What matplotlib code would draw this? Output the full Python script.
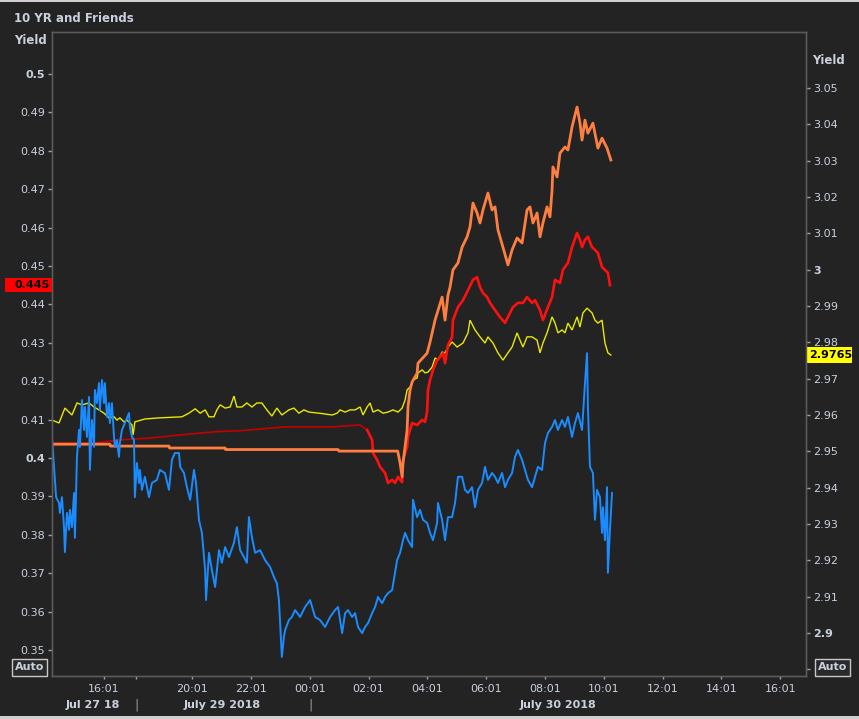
import matplotlib
matplotlib.use('Agg')
import matplotlib.pyplot as plt
from matplotlib.patches import Rectangle
import matplotlib.transforms as mtransforms

# x = chart hours since Jul 27 16:01 (session-compressed axis, weekend removed)
blue_t = [-1.77, -1.70, -1.63, -1.53, -1.50, -1.43, -1.36, -1.33, -1.26, -1.19, -1.16, -1.09, -1.02, -0.99,
          -0.92, -0.85, -0.82, -0.75, -0.68, -0.65, -0.58, -0.51, -0.48, -0.41, -0.34, -0.31, -0.24, -0.17,
          -0.14, -0.07, 0.00, 0.03, 0.10, 0.17, 0.20, 0.27, 0.34, 0.37, 0.44, 0.51, 0.54, 0.61, 0.71, 0.85,
          0.88, 0.95, 1.02, 1.05, 1.12, 1.19, 1.22, 1.29, 1.39, 1.53, 1.63, 1.80, 1.90, 2.07, 2.21, 2.31,
          2.41, 2.55, 2.59, 2.72, 2.82, 2.93, 3.06, 3.13, 3.23, 3.33, 3.44, 3.47, 3.57, 3.67, 3.78, 3.91,
          4.01, 4.12, 4.25, 4.42, 4.52, 4.63, 4.76, 4.86, 4.93, 5.03, 5.14, 5.31, 5.48, 5.65, 5.78, 5.88,
          5.95, 5.99, 6.05, 6.12, 6.16, 6.29, 6.39, 6.50, 6.67, 6.84, 7.01, 7.18, 7.35, 7.52, 7.69, 7.86,
          7.96, 8.10, 8.20, 8.30, 8.44, 8.54, 8.64, 8.78, 8.88, 8.98, 9.12, 9.22, 9.32, 9.46, 9.56, 9.66,
          9.80, 9.90, 9.97, 10.07, 10.17, 10.24, 10.34, 10.48, 10.51, 10.65, 10.75, 10.85, 10.99, 11.09,
          11.19, 11.33, 11.36, 11.50, 11.60, 11.70, 11.84, 11.94, 12.04, 12.18, 12.28, 12.38, 12.52, 12.62,
          12.72, 12.86, 12.96, 13.06, 13.20, 13.30, 13.40, 13.54, 13.64, 13.74, 13.88, 13.98, 14.08, 14.22,
          14.32, 14.42, 14.56, 14.66, 14.76, 14.90, 15.00, 15.10, 15.24, 15.34, 15.44, 15.58, 15.68, 15.78,
          15.92, 16.02, 16.12, 16.26, 16.36, 16.43, 16.46, 16.53, 16.63, 16.70, 16.77, 16.87, 16.94, 16.97,
          17.04, 17.11, 17.14, 17.21, 17.28]
blue_v = [0.4055, 0.3977, 0.3898, 0.3883, 0.3857, 0.3898, 0.3820, 0.3755, 0.3857, 0.3813, 0.3865, 0.3820,
          0.3909, 0.3792, 0.4003, 0.4073, 0.4029, 0.4151, 0.4073, 0.4133, 0.4055, 0.4159, 0.3969, 0.4099,
          0.4029, 0.4177, 0.4143, 0.4195, 0.4125, 0.4203, 0.4143, 0.4195, 0.4107, 0.4143, 0.4091, 0.4143,
          0.4055, 0.4029, 0.4047, 0.4003, 0.4039, 0.4073, 0.4091, 0.4117, 0.4081, 0.4055, 0.4047, 0.3898,
          0.3987, 0.3935, 0.3969, 0.3917, 0.3951, 0.3898, 0.3935, 0.3943, 0.3969, 0.3961, 0.3917, 0.3995,
          0.4013, 0.4013, 0.3977, 0.3961, 0.3924, 0.3891, 0.3969, 0.3935, 0.3839, 0.3805, 0.3708, 0.3630,
          0.3753, 0.3708, 0.3664, 0.3760, 0.3727, 0.3768, 0.3742, 0.3779, 0.3820, 0.3760, 0.3742, 0.3727,
          0.3846, 0.3794, 0.3753, 0.3760, 0.3734, 0.3716, 0.3690, 0.3674, 0.3630, 0.3570, 0.3482, 0.3534,
          0.3552, 0.3578, 0.3586, 0.3604, 0.3586, 0.3612, 0.3630, 0.3586, 0.3578, 0.3560, 0.3586, 0.3604,
          0.3612, 0.3544, 0.3596, 0.3604, 0.3586, 0.3596, 0.3560, 0.3544, 0.3560, 0.3570, 0.3596, 0.3612,
          0.3638, 0.3622, 0.3638, 0.3648, 0.3656, 0.3701, 0.3734, 0.3753, 0.3786, 0.3805, 0.3786, 0.3768,
          0.3891, 0.3846, 0.3865, 0.3839, 0.3831, 0.3805, 0.3786, 0.3831, 0.3883, 0.3839, 0.3786, 0.3846,
          0.3846, 0.3883, 0.3951, 0.3951, 0.3917, 0.3909, 0.3924, 0.3872, 0.3917, 0.3935, 0.3977, 0.3943,
          0.3961, 0.3951, 0.3935, 0.3961, 0.3924, 0.3943, 0.3961, 0.4003, 0.4021, 0.3995, 0.3969, 0.3943,
          0.3924, 0.3951, 0.3977, 0.3969, 0.4039, 0.4065, 0.4081, 0.4099, 0.4073, 0.4099, 0.4081, 0.4107,
          0.4055, 0.4091, 0.4117, 0.4073, 0.4195, 0.4273, 0.4133, 0.3977, 0.3961, 0.3839, 0.3917, 0.3898,
          0.3805, 0.3872, 0.3786, 0.3924, 0.3701, 0.3813, 0.3909]

yellow_t = [-1.77, -1.53, -1.33, -1.09, -0.92, -0.75, -0.51, -0.34, -0.17, 0.00, 0.17, 0.34, 0.44, 0.54,
            0.68, 0.78, 0.95, 0.99, 1.05, 1.39, 1.87, 2.65, 2.89, 3.10, 3.27, 3.44, 3.57, 3.74, 3.84, 3.95,
            4.12, 4.29, 4.42, 4.52, 4.69, 4.86, 5.03, 5.20, 5.37, 5.54, 5.71, 5.88, 6.05, 6.29, 6.46, 6.63,
            6.80, 6.97, 7.31, 7.76, 7.93, 8.03, 8.20, 8.37, 8.54, 8.71, 8.81, 8.95, 9.05, 9.15, 9.32, 9.49,
            9.66, 9.83, 10.00, 10.14, 10.24, 10.31, 10.41, 10.51, 10.65, 10.68, 10.82, 10.92, 11.02, 11.16,
            11.26, 11.36, 11.50, 11.60, 11.70, 11.84, 12.01, 12.21, 12.38, 12.45, 12.62, 12.79, 12.96, 13.06,
            13.23, 13.40, 13.57, 13.74, 13.88, 14.05, 14.15, 14.25, 14.39, 14.56, 14.73, 14.83, 14.93, 15.07,
            15.24, 15.34, 15.44, 15.58, 15.68, 15.78, 15.92, 16.09, 16.19, 16.29, 16.43, 16.60, 16.70, 16.80,
            16.94, 17.04, 17.14, 17.24]
yellow_v = [2.9586, 2.9578, 2.9619, 2.9600, 2.9633, 2.9628, 2.9633, 2.9622, 2.9614, 2.9605, 2.9592, 2.9595,
            2.9586, 2.9592, 2.9581, 2.9586, 2.9573, 2.9545, 2.9581, 2.9589, 2.9592, 2.9595, 2.9605, 2.9617,
            2.9605, 2.9614, 2.9595, 2.9595, 2.9614, 2.9628, 2.9619, 2.9622, 2.9652, 2.9622, 2.9622, 2.9633,
            2.9622, 2.9633, 2.9633, 2.9614, 2.9597, 2.9619, 2.9600, 2.9614, 2.9619, 2.9605, 2.9614, 2.9608,
            2.9605, 2.9600, 2.9605, 2.9614, 2.9608, 2.9614, 2.9614, 2.9622, 2.9600, 2.9622, 2.9633, 2.9608,
            2.9614, 2.9605, 2.9608, 2.9614, 2.9608, 2.9619, 2.9641, 2.9669, 2.9677, 2.9696, 2.9702, 2.9716,
            2.9724, 2.9716, 2.9718, 2.9732, 2.9757, 2.9751, 2.9773, 2.9771, 2.9787, 2.9801, 2.9787, 2.9798,
            2.9826, 2.9861, 2.9834, 2.9815, 2.9798, 2.9815, 2.9798, 2.9771, 2.9751, 2.9771, 2.9787, 2.9826,
            2.9806, 2.9787, 2.9815, 2.9815, 2.9806, 2.9771, 2.9798, 2.9826, 2.9870, 2.9853, 2.9826, 2.9834,
            2.9826, 2.9853, 2.9834, 2.9870, 2.9842, 2.9881, 2.9894, 2.9881, 2.9861, 2.9853, 2.9861, 2.9798,
            2.9771, 2.9765]

red_t = [-1.77, -0.37, 0.54, 1.56, 2.59, 3.71, 4.63, 6.16, 7.76, 8.10, 8.71, 8.95, 9.12, 9.15, 9.29,
         9.39, 9.56, 9.66, 9.80, 9.90, 10.00, 10.14, 10.17, 10.31, 10.34, 10.48, 10.65, 10.82, 10.92,
         10.99, 11.02, 11.09, 11.19, 11.33, 11.43, 11.53, 11.60, 11.70, 11.84, 11.87, 12.04, 12.21, 12.38,
         12.55, 12.69, 12.79, 12.89, 13.03, 13.13, 13.30, 13.47, 13.64, 13.81, 13.91, 14.08, 14.25, 14.39,
         14.56, 14.66, 14.83, 14.93, 15.10, 15.24, 15.34, 15.51, 15.61, 15.78, 15.92, 16.09, 16.19, 16.26,
         16.36, 16.46, 16.60, 16.70, 16.80, 16.94, 17.04, 17.14, 17.21]
red_v = [0.4039, 0.4039, 0.4047, 0.4052, 0.4060, 0.4068, 0.4071, 0.4081, 0.4081, 0.4083, 0.4086, 0.4073,
         0.4047, 0.4013, 0.3995, 0.3977, 0.3961, 0.3935, 0.3943, 0.3935, 0.3951, 0.3937, 0.3995, 0.4029,
         0.4055, 0.4091, 0.4086, 0.4099, 0.4094, 0.4120, 0.4177, 0.4203, 0.4229, 0.4255, 0.4263, 0.4273,
         0.4247, 0.4294, 0.4315, 0.4359, 0.4393, 0.4411, 0.4437, 0.4464, 0.4471, 0.4445, 0.4430, 0.4419,
         0.4404, 0.4385, 0.4367, 0.4352, 0.4378, 0.4393, 0.4404, 0.4404, 0.4419, 0.4404, 0.4411, 0.4385,
         0.4359, 0.4393, 0.4419, 0.4464, 0.4456, 0.4490, 0.4508, 0.4549, 0.4586, 0.4568, 0.4549, 0.4568,
         0.4576, 0.4549, 0.4542, 0.4534, 0.4497, 0.4490, 0.4482, 0.4450]

orange_t = [-1.77, 0.20, 0.22, 2.21, 2.23, 4.12, 4.14, 6.12, 7.96, 7.99, 9.99, 10.07, 10.14, 10.17, 10.24,
            10.31, 10.34, 10.41, 10.48, 10.65, 10.68, 10.99, 11.09, 11.26, 11.50, 11.60, 11.70, 11.77, 11.87,
            12.04, 12.18, 12.35, 12.45, 12.55, 12.69, 12.79, 12.89, 13.06, 13.20, 13.30, 13.40, 13.57, 13.74,
            13.88, 14.05, 14.22, 14.39, 14.49, 14.59, 14.73, 14.83, 14.93, 15.07, 15.17, 15.24, 15.27, 15.41,
            15.51, 15.68, 15.78, 15.92, 16.02, 16.09, 16.19, 16.26, 16.36, 16.46, 16.63, 16.80, 16.94, 17.11,
            17.24]
orange_v = [0.4036, 0.4036, 0.4031, 0.4031, 0.4026, 0.4026, 0.4022, 0.4022, 0.4022, 0.4018, 0.4018, 0.3987,
            0.3951, 0.3987, 0.4029, 0.4073, 0.4133, 0.4177, 0.4198, 0.4221, 0.4247, 0.4273, 0.4302, 0.4359,
            0.4419, 0.4359, 0.4424, 0.4445, 0.4490, 0.4508, 0.4549, 0.4576, 0.4602, 0.4664, 0.4638, 0.4612,
            0.4646, 0.4690, 0.4646, 0.4654, 0.4594, 0.4549, 0.4503, 0.4542, 0.4573, 0.4560, 0.4646, 0.4654,
            0.4612, 0.4638, 0.4576, 0.4612, 0.4654, 0.4628, 0.4698, 0.4758, 0.4732, 0.4794, 0.4810, 0.4802,
            0.4862, 0.4893, 0.4914, 0.4872, 0.4828, 0.4880, 0.4846, 0.4872, 0.4807, 0.4833, 0.4807, 0.4776]

time_tick_hours = [0, 3, 5, 7, 9, 11, 13, 15, 17, 19, 21, 23]
time_tick_labels = ['16:01', '20:01', '22:01', '00:01', '02:01', '04:01', '06:01', '08:01',
                    '10:01', '12:01', '14:01', '16:01']
session_break_hours = [1.09]
date_labels = ['Jul 27 18', 'July 29 2018', 'July 30 2018']
date_label_hours = [-0.37, 4.01, 15.44]
date_separator_hours = [1.09, 7.04]

left_ticks = [0.35, 0.36, 0.37, 0.38, 0.39, 0.40, 0.41, 0.42, 0.43, 0.44, 0.45, 0.46, 0.47, 0.48, 0.49, 0.50]
right_ticks = [2.89, 2.90, 2.91, 2.92, 2.93, 2.94, 2.95, 2.96, 2.97, 2.98, 2.99, 3.00, 3.01, 3.02, 3.03,
               3.04, 3.05]

TXT = '#c9d1de'
BG_OUT = '#232323'
BG_IN = '#1e1e1e'
W, H = 859, 719

fig = plt.figure(figsize=(W / 100, H / 100), dpi=100, facecolor=BG_OUT)
ax = fig.add_axes([52 / W, 1 - 676 / H, (806 - 52) / W, (676 - 32) / H])
ax2 = ax.twinx()
ax.set_zorder(2)
ax2.set_zorder(1)
ax.patch.set_visible(False)
ax2.patch.set_facecolor(BG_IN)

ax.set_xlim(-1.769, 23.878)
ax.set_ylim(0.34323, 0.51094)
ax2.set_ylim(2.88816, 3.06541)

# lines
ax2.plot(yellow_t, yellow_v, color='#e8e800', lw=1.0, solid_joinstyle='miter')
split = 12
ax.plot(red_t[:split], red_v[:split], color='#c40000', lw=1.2)
ax.plot(red_t[split - 1:], red_v[split - 1:], color='#ff1010', lw=1.9)
ax.plot(orange_t, orange_v, color='#ff7f40', lw=2.0)
ax.plot(blue_t, blue_v, color='#1a8cff', lw=1.4)

for a in (ax, ax2):
    for s in a.spines.values():
        s.set_color('#5a5a5a')
        s.set_linewidth(1.0)

def fmt(v):
    return ('%.2f' % v).rstrip('0').rstrip('.')

ax.set_yticks(left_ticks)
ax.set_yticklabels([fmt(v) for v in left_ticks])
ax2.set_yticks(right_ticks)
ax2.set_yticklabels(['' if abs(v - 2.89) < 1e-9 else fmt(v) for v in right_ticks])
ax.tick_params(axis='y', colors='#9aa0a8', labelcolor=TXT, labelsize=8, length=3, width=1, pad=2)
ax2.tick_params(axis='y', colors='#9aa0a8', labelcolor=TXT, labelsize=8, length=3, width=1, pad=2)
for lab in ax.get_yticklabels():
    if lab.get_text() in ('0.5', '0.4'):
        lab.set_fontweight('bold')
for lab in ax2.get_yticklabels():
    if lab.get_text() in ('3', '2.9'):
        lab.set_fontweight('bold')

ax.set_xticks(time_tick_hours)
ax.set_xticklabels(time_tick_labels)
ax.set_xticks(session_break_hours, minor=True)
ax.tick_params(axis='x', which='both', colors='#9aa0a8', labelcolor=TXT, labelsize=8, length=2, width=1, pad=4)

trans = mtransforms.blended_transform_factory(ax.transData, ax.transAxes)
for lab, h in zip(date_labels, date_label_hours):
    ax.text(h, -0.045, lab, transform=trans, ha='center', va='center', fontsize=8,
            fontweight='bold', color=TXT, clip_on=False)
for h in date_separator_hours:
    ax.text(h, -0.045, '|', transform=trans, ha='center', va='center', fontsize=9,
            color='#a0a0a0', clip_on=False)

# title and axis labels
fig.text(14 / W, 1 - 18 / H, '10 YR and Friends', ha='left', va='center', fontsize=8.5,
         fontweight='bold', color=TXT)
fig.text(14 / W, 1 - 40 / H, 'Yield', ha='left', va='center', fontsize=8.5, fontweight='bold', color=TXT)
fig.text(812 / W, 1 - 60 / H, 'Yield', ha='left', va='center', fontsize=8.5, fontweight='bold', color=TXT)

# last-value boxes
tl = mtransforms.blended_transform_factory(fig.transFigure, ax.transData)
last_red = red_v[-1]
ax.add_patch(Rectangle((5 / W, last_red - 7 / 3840), 47 / W, 14 / 3840, transform=tl,
                       facecolor='#ff0000', edgecolor='none', clip_on=False, zorder=5))
ax.text(50 / W, last_red, '%.3f' % last_red, transform=tl, ha='right', va='center', fontsize=8,
        fontweight='bold', color='black', clip_on=False, zorder=6)

tr = mtransforms.blended_transform_factory(fig.transFigure, ax2.transData)
last_yel = yellow_v[-1]
ax2.add_patch(Rectangle((806 / W, last_yel - 8 / 3633), 46 / W, 16 / 3633, transform=tr,
                        facecolor='#ffff00', edgecolor='none', clip_on=False, zorder=5))
ax2.text(809 / W, last_yel, '%.4f' % last_yel, transform=tr, ha='left', va='center', fontsize=8,
         fontweight='bold', color='black', clip_on=False, zorder=6)

# "Auto" buttons
for x0 in (12, 815):
    fig.add_artist(Rectangle((x0 / W, 1 - 676 / H), 35 / W, 17 / H, transform=fig.transFigure,
                             facecolor='#2a2a2a', edgecolor='#c8c8c8', lw=1.0, zorder=10))
    fig.text((x0 + 17.5) / W, 1 - 667.5 / H, 'Auto', ha='center', va='center', fontsize=8,
             fontweight='bold', color=TXT, zorder=11)

# window border bands
fig.add_artist(Rectangle((0, 1 - 2 / H), 1, 2 / H, transform=fig.transFigure, facecolor='#cfcfcf',
                         edgecolor='none'))
fig.add_artist(Rectangle((0, 0), 1, 3 / H, transform=fig.transFigure, facecolor='#cfcfcf',
                         edgecolor='none'))

fig.savefig('out.png', dpi=100, facecolor=BG_OUT)
